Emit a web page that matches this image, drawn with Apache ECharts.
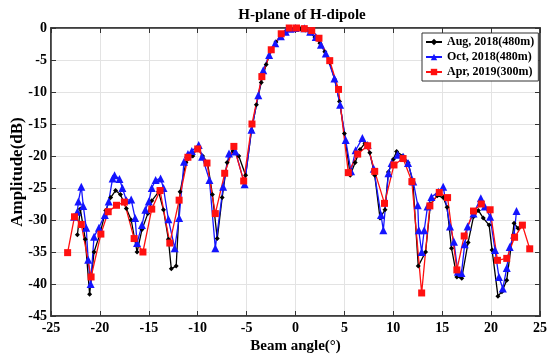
<!DOCTYPE html>
<html>
<head>
<meta charset="utf-8">
<script src="https://cdn.jsdelivr.net/npm/echarts@6/dist/echarts.min.js"></script>
<style>
  html, body { margin: 0; padding: 0; background: #fff; }
  #chart { width: 559px; height: 360px; }
</style>
</head>
<body>
<div id="chart"></div>
<script>
// Aug, 2018 (480m)
var augAngle = [-22.3, -22.0, -21.5, -21.05, -20.6, -20.0, -19.4, -18.9, -18.4, -17.9, -17.3, -16.8, -16.2, -15.7, -15.1, -14.7, -14.0, -13.5, -13.0, -12.7, -12.2, -11.8, -11.2, -10.5, -10.0, -9.5, -9.0, -8.5, -8.0, -7.5, -7.0, -6.4, -5.8, -5.1, -4.5, -4.0, -3.5, -3.0, -2.5, -2.0, -1.5, -1.0, -0.5, 0.0, 0.5, 1.0, 1.5, 2.0, 2.5, 3.0, 3.5, 4.0, 4.5, 5.0, 5.6, 6.1, 6.6, 7.1, 7.6, 8.1, 8.64, 9.15, 9.5, 10.0, 10.34, 11.0, 11.5, 12.0, 12.55, 13.3, 13.8, 14.5, 15.1, 15.5, 15.95, 16.5, 17.0, 17.65, 18.2, 18.7, 19.2, 19.8, 20.1, 20.7, 21.1, 21.6, 22.35, 22.75];
var augAmp = [-32.3, -28.3, -33.0, -41.6, -35.0, -32.2, -28.5, -26.5, -25.4, -26.0, -28.2, -30.0, -35.0, -31.5, -29.0, -27.0, -25.6, -28.4, -33.0, -37.6, -37.2, -25.6, -21.0, -20.0, -18.6, -20.0, -21.0, -26.0, -32.9, -26.5, -21.0, -19.2, -20.0, -23.0, -16.0, -12.0, -8.5, -5.7, -3.6, -2.2, -1.2, -0.5, -0.1, 0.0, -0.1, -0.3, -0.8, -1.5, -2.4, -3.7, -5.4, -8.0, -11.5, -16.5, -23.0, -21.0, -19.0, -18.0, -19.5, -23.0, -29.7, -28.4, -22.5, -20.5, -19.3, -20.0, -21.0, -24.0, -37.2, -35.0, -27.5, -26.2, -26.5, -28.0, -34.4, -38.9, -39.1, -33.5, -29.5, -28.5, -29.7, -30.8, -34.7, -41.9, -41.2, -39.4, -30.5, -31.3];

// Oct, 2018 (480m)
var octAngle = [-22.65, -22.3, -22.2, -21.9, -21.7, -21.4, -21.2, -20.95, -20.6, -20.1, -19.5, -19.1, -18.7, -18.5, -18.0, -17.7, -17.3, -16.8, -16.4, -16.2, -15.7, -15.35, -15.0, -14.7, -14.3, -13.8, -13.5, -13.0, -12.35, -11.9, -11.4, -11.0, -10.6, -9.9, -9.55, -8.8, -8.2, -7.4, -6.8, -6.15, -5.2, -4.5, -3.8, -3.3, -2.7, -2.07, -1.5, -1.0, -0.5, 0.0, 0.9, 1.5, 2.07, 2.6, 3.1, 3.98, 4.56, 5.13, 5.68, 6.15, 6.84, 7.38, 8.0, 8.74, 8.98, 9.5, 9.83, 10.44, 11.0, 11.5, 12.04, 12.5, 12.6, 12.9, 13.16, 13.5, 13.9, 14.6, 15.1, 15.8, 16.2, 16.6, 16.97, 17.3, 17.6, 18.2, 18.95, 19.35, 19.9, 20.4, 20.8, 21.2, 21.6, 21.9, 22.35, 22.6];
var octAmp = [-29.5, -28.7, -27.1, -24.8, -27.8, -31.2, -36.2, -40.0, -32.6, -31.2, -29.2, -27.1, -23.5, -23.0, -23.6, -25.0, -26.9, -26.8, -29.7, -33.6, -30.8, -28.4, -27.1, -25.0, -23.75, -23.5, -25.0, -29.9, -34.4, -29.7, -20.9, -19.7, -19.2, -18.3, -20.1, -23.75, -34.4, -24.8, -19.6, -19.3, -24.4, -15.9, -10.5, -6.6, -4.2, -2.4, -1.3, -0.6, -0.1, 0.0, -0.05, -0.6, -1.4, -2.6, -4.0, -7.9, -12.0, -17.5, -22.4, -19.1, -17.2, -18.3, -22.0, -29.2, -31.6, -22.7, -21.1, -19.8, -20.1, -21.1, -24.0, -27.7, -31.6, -35.0, -31.6, -27.9, -26.4, -25.6, -24.8, -31.0, -33.4, -38.1, -38.3, -33.8, -31.0, -29.0, -26.6, -27.9, -29.5, -34.7, -38.9, -40.7, -37.5, -34.2, -32.3, -28.6];

// Apr, 2019 (300m)
var aprAngle = [-23.3, -22.6, -21.9, -20.9, -19.9, -19.15, -18.3, -17.5, -16.5, -15.6, -14.7, -13.85, -12.85, -11.9, -11.0, -10.0, -9.05, -8.2, -7.24, -6.3, -5.3, -4.45, -3.44, -2.48, -1.46, -0.64, 0.1, 0.9, 1.66, 2.4, 3.5, 4.4, 5.4, 6.36, 7.38, 8.1, 9.1, 10.07, 11.0, 11.9, 12.9, 13.74, 14.7, 15.55, 16.5, 17.25, 18.2, 19.0, 19.9, 20.65, 21.6, 22.4, 23.2, 23.95];
var aprAmp = [-35.1, -29.5, -30.7, -38.9, -32.2, -28.7, -27.7, -27.2, -32.9, -35.0, -28.3, -25.4, -33.6, -26.9, -20.2, -18.9, -21.1, -29.0, -22.7, -18.5, -23.9, -15.0, -7.6, -3.4, -0.9, 0.0, 0.0, -0.1, -0.4, -1.6, -5.1, -9.6, -22.6, -19.7, -18.4, -22.4, -27.4, -21.4, -20.4, -24.0, -41.4, -27.8, -25.7, -26.5, -37.8, -32.5, -28.6, -27.5, -28.4, -36.3, -36.0, -32.7, -30.8, -34.5];

var xTicks = [-25, 25, 5];
var yTicks = [-45, 0, 5];

function zip(a, b) {
    var out = [];
    for (var i = 0; i < a.length; i++) out.push([a[i], b[i]]);
    return out;
}

var serif = "Liberation Serif";
var chart = echarts.init(document.getElementById("chart"));

function axisBase(show) {
    return {
        axisLine: { show: true, onZero: false, lineStyle: { color: "#333", width: 1.5 } },
        axisTick: { show: true, inside: true, length: 5, lineStyle: { color: "#333", width: 1 } },
        axisLabel: { show: show, color: "#000", fontFamily: serif, fontWeight: "bold", fontSize: 14, margin: 5 },
        splitLine: { show: show, lineStyle: { color: "#e3e3e3", width: 1 } }
    };
}

var xMain = Object.assign(axisBase(true), {
    type: "value", position: "bottom", min: xTicks[0], max: xTicks[1], interval: xTicks[2],
    name: "Beam angle(°)", nameLocation: "middle", nameGap: 23, nameMoveOverlap: false,
    nameTextStyle: { color: "#000", fontFamily: serif, fontWeight: "bold", fontSize: 15 }
});
var xTop = Object.assign(axisBase(false), {
    type: "value", position: "top", min: xTicks[0], max: xTicks[1], interval: xTicks[2]
});
var yMain = Object.assign(axisBase(true), {
    type: "value", position: "left", min: yTicks[0], max: yTicks[1], interval: yTicks[2],
    name: "Amplitude(dB)", nameLocation: "middle", nameGap: 25, nameMoveOverlap: false,
    nameTextStyle: { color: "#000", fontFamily: serif, fontWeight: "bold", fontSize: 17 }
});
yMain.axisLabel.margin = 4;
var yRight = Object.assign(axisBase(false), {
    type: "value", position: "right", min: yTicks[0], max: yTicks[1], interval: yTicks[2]
});

function lineSeries(name, data, color, symbol, size) {
    return {
        name: name,
        type: "line",
        xAxisIndex: 0,
        yAxisIndex: 0,
        data: data,
        symbol: symbol,
        symbolSize: size,
        showAllSymbol: true,
        color: color,
        lineStyle: { color: color, width: 1.3 },
        itemStyle: { color: color },
        animation: false
    };
}

var option = {
    backgroundColor: "#fff",
    animation: false,
    title: {
        text: "H-plane of H-dipole",
        left: 297, top: 3, textAlign: "center",
        textStyle: { color: "#000", fontFamily: serif, fontWeight: "bold", fontSize: 15 }
    },
    grid: {
        left: 51, right: 19, top: 28, bottom: 44,
        outerBoundsMode: "none", containLabel: false,
        show: true, borderColor: "#333", borderWidth: 1.5, backgroundColor: "#fff"
    },
    legend: {
        orient: "vertical",
        left: 422, top: 33,
        padding: [3, 4, 3, 3],
        itemGap: 3,
        itemWidth: 16,
        itemHeight: 8,
        backgroundColor: "#fff",
        borderColor: "#333",
        borderWidth: 1,
        borderRadius: 0,
        textStyle: { color: "#000", fontFamily: serif, fontWeight: "bold", fontSize: 12 },
        data: ["Aug, 2018(480m)", "Oct, 2018(480m)", "Apr, 2019(300m)"]
    },
    xAxis: [xMain, xTop],
    yAxis: [yMain, yRight],
    series: [
        lineSeries("Aug, 2018(480m)", zip(augAngle, augAmp), "#000000", "diamond", 5),
        lineSeries("Oct, 2018(480m)", zip(octAngle, octAmp), "#1414ff", "triangle", 8),
        lineSeries("Apr, 2019(300m)", zip(aprAngle, aprAmp), "#ff1010", "rect", 7)
    ]
};
chart.setOption(option);
</script>
</body>
</html>
